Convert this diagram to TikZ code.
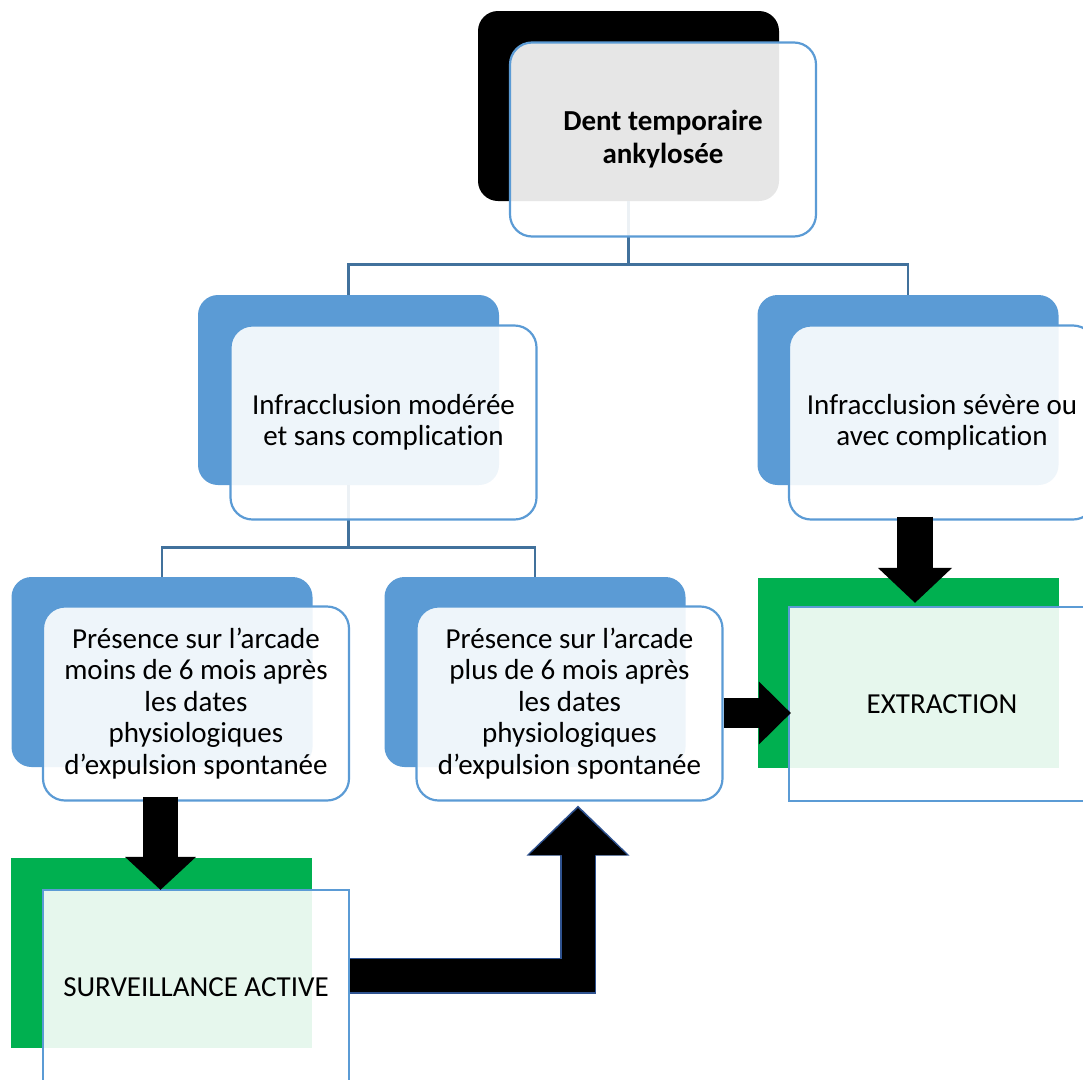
\documentclass[tikz,border=0pt]{standalone}
\usepackage{fontspec}
\setmainfont{Carlito}[Ligatures={NoCommon,TeX}]
\usetikzlibrary{arrows.meta}

\definecolor{boxblue}{HTML}{5B9BD5}
\definecolor{linkblue}{HTML}{41719C}
\definecolor{boxgreen}{HTML}{00B050}
\definecolor{edgeblue}{HTML}{2F528F}

\begin{document}
\begin{tikzpicture}[x=1pt,y=-1pt,
    back node/.style={rounded corners=20pt,minimum width=301pt,minimum height=190pt,inner sep=0pt},
    front node/.style={draw=boxblue,line width=2.2pt,fill=white,fill opacity=0.9,text opacity=1,
        rounded corners=22pt,minimum width=306pt,minimum height=194pt,inner sep=0pt,align=center,
        font=\fontsize{29}{31.5}\selectfont},
    link/.style={draw=linkblue,line width=2.6pt},
    fork/.style={to path={-- ++(0,#1) -| (\tikztotarget)}},
    big arrow/.style n args={3}{line width=#1,-{Triangle[width=#2,length=#3]}}]

    \useasboundingbox (0,0) rectangle (1083,1079);
    \clip (0,0) rectangle (1083,1079);

    % back shapes
    \node[back node, fill=black] (dentB) at (628.5,106) {};
    \node[back node, fill=boxblue] (modB) at (348.5,390) {};
    \node[back node, fill=boxblue] (sevB) at (908,390) {};
    \node[back node, fill=boxblue] (moinsB) at (162,672) {};
    \node[back node, fill=boxblue] (plusB) at (535,672) {};
    \node[back node, fill=boxgreen, sharp corners] (survB) at (161.5,953) {};
    \node[back node, fill=boxgreen, sharp corners] (extB) at (908,673) {};

    \path
    (dentB.south) edge[link, fork=63] (modB.north)
    (dentB.south) edge[link, fork=63] (sevB.north)
    (modB.south) edge[link, fork=62] (moinsB.north)
    (modB.south) edge[link, fork=62] (plusB.north);

    % front boxes
    \node[front node, font=\fontsize{29}{33}\selectfont\bfseries] (dent) at (663,139.5) {Dent temporaire\\ankylosée};
    \node[front node] (mod) at (383.5,422.5) {Infracclusion modérée\\et sans complication};
    \node[front node] (sev) at (942,422.5) {Infracclusion sévère ou\\avec complication};
    \node[front node] (moins) at (196,703.5) {Présence sur l’arcade\\moins de 6 mois après\\les dates\\physiologiques\\d’expulsion spontanée};
    \node[front node] (plus) at (569.5,703.5) {Présence sur l’arcade\\plus de 6 mois après\\les dates\\physiologiques\\d’expulsion spontanée};
    \node[front node, sharp corners] (surv) at (196,987) {SURVEILLANCE ACTIVE};
    \node[front node, sharp corners] (ext) at (942,704) {EXTRACTION};

    \coordinate (bendtip) at (578,808);
    \coordinate (bendrim) at (578,805.5);

    % block arrows
    \draw[big arrow={35pt}{69pt}{33pt}] ([xshift=-35.5pt,yshift=5pt]moins.south) -- ([xshift=-35.5pt,yshift=-1pt]surv.north);
    \draw[big arrow={36pt}{72pt}{35pt}] ([xshift=-27pt,yshift=4pt]sev.south) -- ([xshift=-27pt,yshift=3pt]ext.north);
    \draw[big arrow={30pt}{61pt}{32pt}] ([yshift=-9.5pt]plus.east) -- ([xshift=3pt,yshift=-9pt]ext.west);
    \draw[big arrow={36pt}{100pt}{50pt}, draw=edgeblue] ([yshift=11.5pt]surv.east) -| (bendrim);
    \draw[big arrow={33pt}{95pt}{47pt}] ([yshift=11.5pt]surv.east) -| (bendtip);

\end{tikzpicture}
\end{document}
